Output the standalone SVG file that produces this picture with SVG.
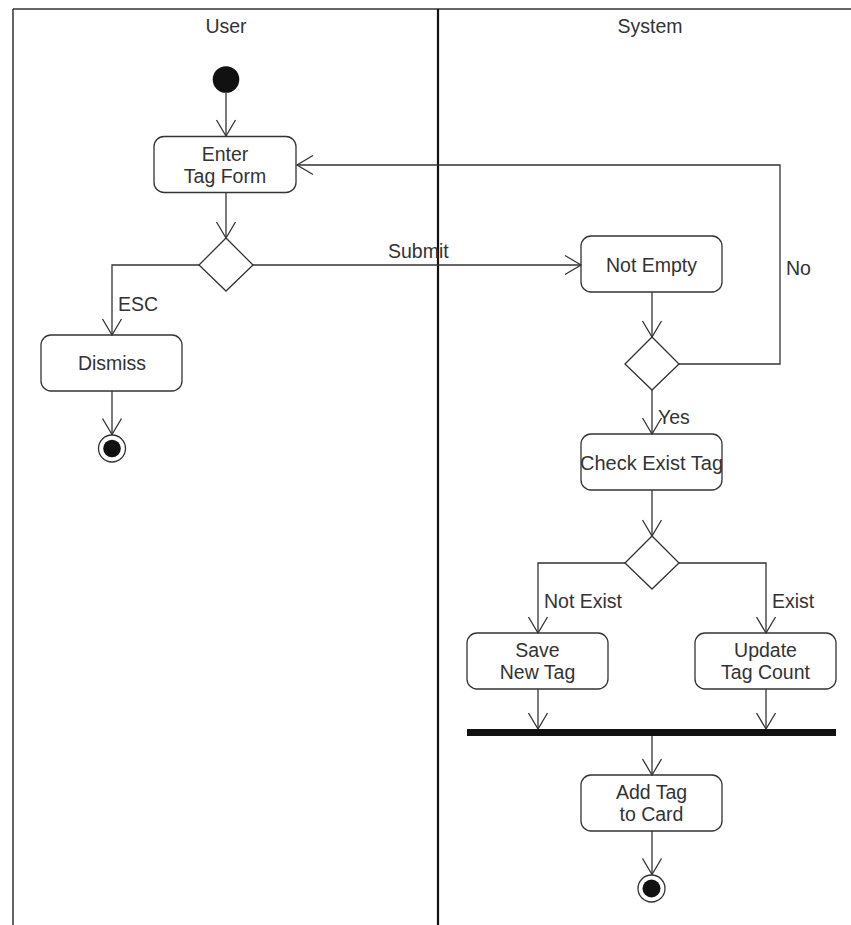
<svg xmlns="http://www.w3.org/2000/svg" width="851" height="925" viewBox="0 0 851 925">
  <style>
    .lane { stroke: #333; stroke-width: 1.5; fill: none; }
    .divider { stroke: #111; stroke-width: 2.2; fill: none; }
    .box { fill: none; stroke: #333; stroke-width: 1.3; }
    .dia { fill: none; stroke: #333; stroke-width: 1.3; }
    .edge { fill: none; stroke: #333; stroke-width: 1.3; marker-end: url(#arr); }
    .lbl { font-family: "Liberation Sans", Arial, sans-serif; font-size: 19.5px; fill: #333; }
    .mid { text-anchor: middle; }
  </style>
  <defs>
    <marker id="arr" viewBox="-18 -12 20 24" refX="0" refY="0" markerWidth="20" markerHeight="24" markerUnits="userSpaceOnUse" orient="auto">
      <path d="M-16,-9.5 L0,0 L-16,9.5" fill="none" stroke="#333" stroke-width="1.3"/>
    </marker>
    <clipPath id="clipCheck">
      <rect x="581" y="434" width="141" height="56" rx="10"/>
    </clipPath>
  </defs>

  <rect width="851" height="925" fill="#ffffff"/>

  <!-- swimlane frame -->
  <g id="lanes">
    <line class="lane" x1="13" y1="9" x2="851" y2="9"/>
    <line class="lane" x1="13" y1="9" x2="13" y2="925"/>
    <line class="divider" x1="438" y1="9" x2="438" y2="925"/>
    <text class="lbl mid" x="226" y="33">User</text>
    <text class="lbl mid" x="650" y="33">System</text>
  </g>

  <!-- connectors -->
  <g id="connectors">
    <path class="edge" d="M226,93 L226,136"/>
    <path class="edge" d="M226,193 L226,238"/>
    <path class="edge" d="M199,265 L112,265 L112,335"/>
    <path class="edge" d="M112,391 L112,434.5"/>
    <path class="edge" d="M253,265 L581,265"/>
    <path class="edge" d="M652,292 L652,337"/>
    <path class="edge" d="M679,364 L780,364 L780,165 L297,165"/>
    <path class="edge" d="M652,390 L652,434"/>
    <path class="edge" d="M652,490 L652,536"/>
    <path class="edge" d="M625,563 L538,563 L538,633"/>
    <path class="edge" d="M679,563 L766,563 L766,633"/>
    <path class="edge" d="M538,689 L538,729"/>
    <path class="edge" d="M766,689 L766,729"/>
    <path class="edge" d="M652,736 L652,775"/>
    <path class="edge" d="M652,831 L652,874.5"/>
    <text class="lbl" x="118" y="311">ESC</text>
    <text class="lbl" x="388" y="258">Submit</text>
    <text class="lbl" x="786" y="275">No</text>
    <text class="lbl" x="658" y="424">Yes</text>
    <text class="lbl" x="544" y="608">Not Exist</text>
    <text class="lbl" x="772" y="608">Exist</text>
  </g>

  <!-- user lane nodes -->
  <g id="start">
    <circle cx="226" cy="79.5" r="13.3" fill="#111"/>
  </g>
  <g id="enterTagForm">
    <rect class="box" x="154" y="136.5" width="142" height="56" rx="10"/>
    <text class="lbl mid" x="225" y="160.5">Enter</text>
    <text class="lbl mid" x="225" y="182.5">Tag Form</text>
  </g>
  <g id="decisionInput">
    <path class="dia" d="M226,238 L253,265 L226,291 L199,265 Z"/>
  </g>
  <g id="dismiss">
    <rect class="box" x="41" y="335" width="141" height="56" rx="10"/>
    <text class="lbl mid" x="112" y="370">Dismiss</text>
  </g>
  <g id="endUser">
    <circle cx="112" cy="448.5" r="13.5" fill="#fff" stroke="#333" stroke-width="1.3"/>
    <circle cx="112" cy="448.5" r="8.8" fill="#111"/>
  </g>

  <!-- system lane nodes -->
  <g id="notEmpty">
    <rect class="box" x="581" y="236" width="141" height="56" rx="10"/>
    <text class="lbl mid" x="651.5" y="271.5">Not Empty</text>
  </g>
  <g id="decisionEmpty">
    <path class="dia" d="M652,337 L679,364 L652,390 L625,364 Z"/>
  </g>
  <g id="checkExistTag">
    <rect class="box" x="581" y="434" width="141" height="56" rx="10"/>
    <text class="lbl mid" x="651.5" y="469.5" style="font-size:20px" clip-path="url(#clipCheck)">Check Exist Tag</text>
  </g>
  <g id="decisionExist">
    <path class="dia" d="M652,536 L679,563 L652,589 L625,563 Z"/>
  </g>
  <g id="saveNewTag">
    <rect class="box" x="467" y="633" width="141" height="56" rx="10"/>
    <text class="lbl mid" x="537.5" y="656.5">Save</text>
    <text class="lbl mid" x="537.5" y="678.5">New Tag</text>
  </g>
  <g id="updateTagCount">
    <rect class="box" x="695" y="633" width="141" height="56" rx="10"/>
    <text class="lbl mid" x="765.5" y="656.5">Update</text>
    <text class="lbl mid" x="765.5" y="678.5">Tag Count</text>
  </g>
  <g id="joinBar">
    <rect x="467" y="729" width="369" height="7" fill="#111"/>
  </g>
  <g id="addTagToCard">
    <rect class="box" x="581" y="775" width="141" height="56" rx="10"/>
    <text class="lbl mid" x="651.5" y="799">Add Tag</text>
    <text class="lbl mid" x="651.5" y="820.5">to Card</text>
  </g>
  <g id="endSystem">
    <circle cx="651.5" cy="888.5" r="13.5" fill="#fff" stroke="#333" stroke-width="1.3"/>
    <circle cx="651.5" cy="888.5" r="9" fill="#111"/>
  </g>
</svg>
